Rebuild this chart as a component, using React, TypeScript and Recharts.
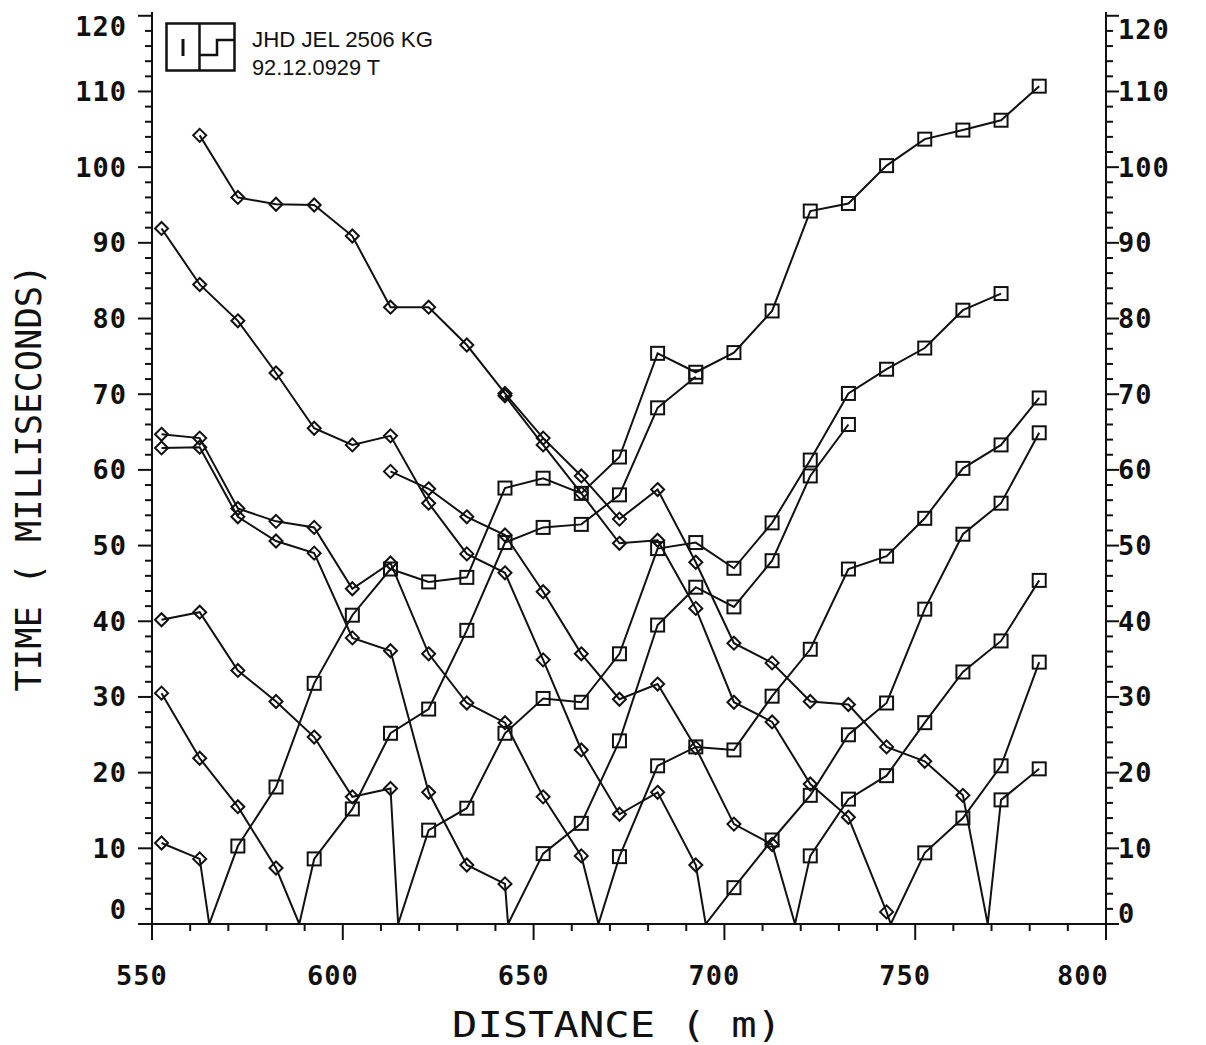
import { LineChart, Line, XAxis, YAxis } from "recharts";

// geophone stations (m)
const STATIONS = [
  552.5, 562.5, 572.5, 582.5, 592.5, 602.5, 612.5, 622.5, 632.5, 642.5, 652.5, 662.5,
  672.5, 682.5, 692.5, 702.5, 712.5, 722.5, 732.5, 742.5, 752.5, 762.5, 772.5, 782.5,
];

// shot positions (m), where each travel-time curve touches 0
const SHOT_POINTS = [565, 588.6, 614.5, 643.3, 667, 695.1, 718.5, 743.6, 769];

// travel times (ms): BACK = stations before the shot (diamonds), FWD = stations after it (squares)
const BACK_1 = [10.7, 8.6];
const FWD_1 = [
  10.3, 18.1, 31.8, 40.8, 46.9, 45.2, 45.8, 57.6, 58.9, 56.9, 61.7, 75.4, 72.9, 75.5, 81,
  94.2, 95.2, 100.2, 103.7, 104.9, 106.2, 110.7,
];

const BACK_2 = [30.5, 21.9, 15.5, 7.4];
const FWD_2 = [8.6, 15.2, 25.2, 28.4, 38.8, 50.4, 52.4, 52.8, 56.7, 68.2, 72.3];

const BACK_3 = [40.2, 41.2, 33.5, 29.4, 24.7, 16.8, 17.9];
const FWD_3 = [12.4, 15.3, 25.2, 29.8, 29.3, 35.7, 49.6, 50.4, 47, 53, 61.3, 70.1, 73.3, 76.1, 81.1, 83.3];

const BACK_4 = [62.9, 63, 53.8, 50.6, 49, 37.8, 36.1, 17.4, 7.8, 5.3];
const FWD_4 = [9.3, 13.3, 24.2, 39.5, 44.5, 41.9, 48, 59.2, 66];

const BACK_5 = [64.7, 64.2, 54.9, 53.2, 52.4, 44.3, 47.7, 35.7, 29.2, 26.6, 16.8, 9];
const FWD_5 = [8.9, 20.9, 23.4, 23, 30.1, 36.3, 46.9, 48.6, 53.6, 60.2, 63.3, 69.5];

const BACK_6 = [91.9, 84.5, 79.7, 72.8, 65.5, 63.3, 64.5, 55.6, 48.9, 46.4, 34.9, 23, 14.5, 17.4, 7.8];
const FWD_6 = [4.8, 11.1, 17, 25, 29.2, 41.6, 51.5, 55.6, 64.9];

const BACK_7 = [59.8, 57.5, 53.8, 51.4, 43.9, 35.7, 29.7, 31.7, 23.3, 13.2, 10.5];
const FWD_7 = [9, 16.5, 19.6, 26.6, 33.3, 37.4, 45.4];

const BACK_8 = [69.8, 63.3, 56.9, 50.3, 50.7, 41.7, 29.3, 26.7, 18.5, 14.1, 1.6];
const FWD_8 = [9.4, 14, 20.9, 34.6];

const BACK_9 = [
  104.2, 96, 95.1, 95, 90.9, 81.5, 81.5, 76.5, 70.1, 64.2, 59.2, 53.5, 57.4, 47.8, 37.1, 34.5,
  29.4, 29, 23.4, 21.5, 17,
];
const FWD_9 = [16.4, 20.5];

const BACKS = [BACK_1, BACK_2, BACK_3, BACK_4, BACK_5, BACK_6, BACK_7, BACK_8, BACK_9];
const FWDS = [FWD_1, FWD_2, FWD_3, FWD_4, FWD_5, FWD_6, FWD_7, FWD_8, FWD_9];

const Y_LABELS = [0, 10, 20, 30, 40, 50, 60, 70, 80, 90, 100, 110, 120];
const X_LABELS = [550, 600, 650, 700, 750, 800];

const Y_TICKS = Y_LABELS.flatMap((v) => (v < 120 ? [v, v + 2, v + 4, v + 6, v + 8] : [v]));
const X_TICKS = X_LABELS.flatMap((v) => (v < 800 ? [v, v + 10, v + 20, v + 30, v + 40] : [v]));

const INK = "#111";
const MONO = "'DejaVu Sans Mono', monospace";

type Pt = { x: number; t: number; mark: string };

function shotData(shot: number, back: number[], fwd: number[]): Pt[] {
  const before = STATIONS.filter((s) => s < shot).slice(-back.length);
  const after = STATIONS.filter((s) => s > shot).slice(0, fwd.length);
  return [
    ...back.map((t, i) => ({ x: before[i], t, mark: "d" })),
    { x: shot, t: 0, mark: "" },
    ...fwd.map((t, i) => ({ x: after[i], t, mark: "s" })),
  ];
}

const SHOTS = SHOT_POINTS.map((s, i) => shotData(s, BACKS[i], FWDS[i]));

function renderMark(props: any) {
  const { cx, cy, payload, key } = props;
  if (payload.mark === "d") {
    const r = 6.5;
    return (
      <path
        key={key}
        d={`M${cx},${cy - r}L${cx + r},${cy}L${cx},${cy + r}L${cx - r},${cy}Z`}
        fill="none"
        stroke={INK}
        strokeWidth={2}
      />
    );
  }
  if (payload.mark === "s") {
    const h = 6.5;
    return <rect key={key} x={cx - h} y={cy - h} width={2 * h} height={2 * h} fill="none" stroke={INK} strokeWidth={2} />;
  }
  return <g key={key} />;
}

const labelStyle = {
  fontFamily: MONO,
  fontSize: 27,
  fontWeight: 700,
  letterSpacing: 1,
  fill: INK,
};

function LeftTick(props: any) {
  const { x, y, payload } = props;
  const v = payload.value;
  const major = v % 10 === 0;
  const shift = v === 0 ? -15 : v === 120 ? 11 : 0;
  return (
    <g>
      <line x1={x - (major ? 14 : 7)} x2={x} y1={y} y2={y} stroke={INK} strokeWidth={2} />
      {major && (
        <text x={x - 25} y={y + shift} textAnchor="end" dominantBaseline="central" {...labelStyle}>
          {v}
        </text>
      )}
    </g>
  );
}

function RightTick(props: any) {
  const { x, y, payload } = props;
  const v = payload.value;
  const major = v % 10 === 0;
  const shift = v === 0 ? -11 : v === 120 ? 14 : 0;
  return (
    <g>
      <line x1={x} x2={x + (major ? 13 : 7)} y1={y} y2={y} stroke={INK} strokeWidth={2} />
      {major && (
        <text x={x + 12} y={y + shift} textAnchor="start" dominantBaseline="central" {...labelStyle}>
          {v}
        </text>
      )}
    </g>
  );
}

function BottomTick(props: any) {
  const { x, y, payload } = props;
  const v = payload.value;
  const major = v % 50 === 0;
  const dx = v === 800 ? -23 : -10;
  return (
    <g>
      <line x1={x} x2={x} y1={y} y2={y + (major ? 16 : 7)} stroke={INK} strokeWidth={2} />
      {major && (
        <text x={x + dx} y={y + 51} textAnchor="middle" dominantBaseline="central" {...labelStyle}>
          {v}
        </text>
      )}
    </g>
  );
}

function TopTick(props: any) {
  const { x, y, payload } = props;
  if (payload.value % 50 !== 0) return <g />;
  return <line x1={x} x2={x} y1={y} y2={y + 8} stroke={INK} strokeWidth={2} />;
}

export default function App() {
  return (
    <div style={{ position: "absolute", left: 0, top: 0, width: 1206, height: 1045, background: "#fff" }}>
      <LineChart width={1206} height={1045} margin={{ top: 12, right: 0, bottom: 0, left: 0 }}>
        <XAxis
          xAxisId="bottom"
          dataKey="x"
          type="number"
          domain={[550, 800]}
          ticks={X_TICKS}
          interval={0}
          height={121}
          tickSize={0}
          tickMargin={0}
          tickLine={false}
          tick={BottomTick}
          axisLine={{ stroke: INK, strokeWidth: 2 }}
          allowDataOverflow
        />
        <XAxis
          xAxisId="top"
          orientation="top"
          dataKey="x"
          type="number"
          domain={[550, 800]}
          ticks={X_TICKS}
          interval={0}
          height={0}
          tickSize={0}
          tickMargin={0}
          tickLine={false}
          tick={TopTick}
          axisLine={{ stroke: INK, strokeWidth: 2 }}
          allowDataOverflow
        />
        <YAxis
          yAxisId="left"
          type="number"
          domain={[0, 120.5]}
          ticks={Y_TICKS}
          interval={0}
          width={152}
          tickSize={0}
          tickMargin={0}
          tickLine={false}
          tick={LeftTick}
          axisLine={{ stroke: INK, strokeWidth: 2 }}
          allowDataOverflow
        />
        <YAxis
          yAxisId="right"
          orientation="right"
          type="number"
          domain={[0, 120.5]}
          ticks={Y_TICKS}
          interval={0}
          width={100}
          tickSize={0}
          tickMargin={0}
          tickLine={false}
          tick={RightTick}
          axisLine={{ stroke: INK, strokeWidth: 2 }}
          allowDataOverflow
        />
        {SHOTS.map((data, i) => (
          <Line
            key={i}
            xAxisId="bottom"
            yAxisId="left"
            data={data}
            dataKey="t"
            type="linear"
            stroke={INK}
            strokeWidth={2}
            dot={renderMark}
            activeDot={false}
            isAnimationActive={false}
          />
        ))}
      </LineChart>
      <svg width={1206} height={1045} style={{ position: "absolute", left: 0, top: 0, pointerEvents: "none" }}>
        <rect x={166.5} y={23.5} width={68} height={47} fill="none" stroke={INK} strokeWidth={2.5} />
        <line x1={199.5} x2={199.5} y1={23.5} y2={70.5} stroke={INK} strokeWidth={2.5} />
        <line x1={183} x2={183} y1={39} y2={56} stroke={INK} strokeWidth={3} />
        <polyline points="234.5,40 217,40 217,55 199.5,55" fill="none" stroke={INK} strokeWidth={2.5} />
        <text x={252} y={46.5} fontFamily="'Liberation Sans', Arial, sans-serif" fontSize={22} textLength={181} lengthAdjust="spacingAndGlyphs" fill={INK}>
          JHD JEL 2506 KG
        </text>
        <text x={252} y={75} fontFamily="'Liberation Sans', Arial, sans-serif" fontSize={22} textLength={128} lengthAdjust="spacingAndGlyphs" fill={INK}>
          92.12.0929 T
        </text>
        <text
          x={0}
          y={0}
          transform="translate(28,478) rotate(-90)"
          textAnchor="middle"
          dominantBaseline="central"
          fontFamily={MONO}
          fontSize={36}
          textLength={427}
          lengthAdjust="spacingAndGlyphs"
          fill={INK}
        >
          TIME ( MILLISECONDS)
        </text>
        <text
          x={617}
          y={1037}
          textAnchor="middle"
          fontFamily={MONO}
          fontSize={36}
          textLength={330}
          lengthAdjust="spacingAndGlyphs"
          fill={INK}
        >
          DISTANCE ( m)
        </text>
      </svg>
    </div>
  );
}
